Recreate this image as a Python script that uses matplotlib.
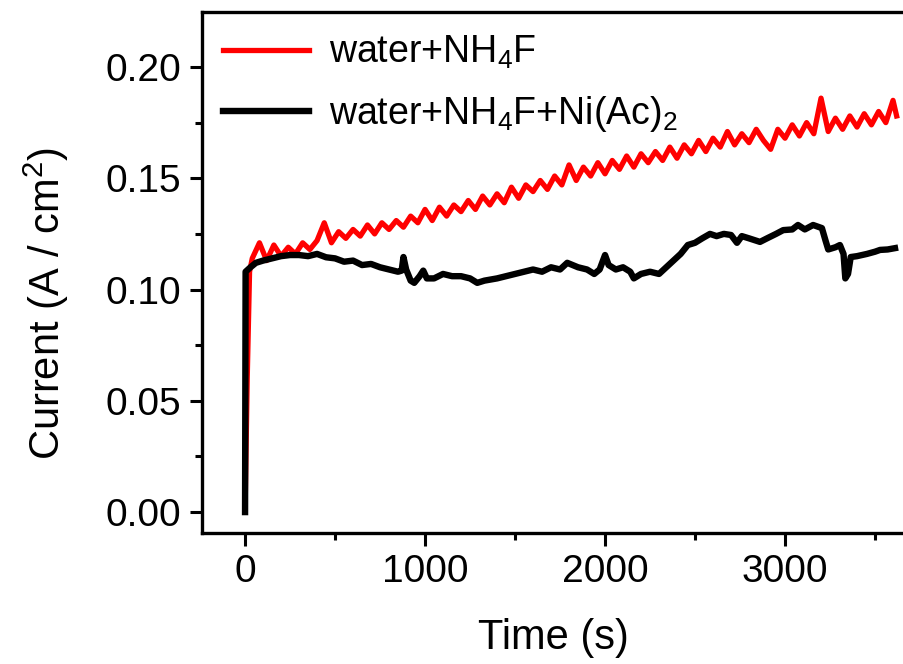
import numpy as np
import matplotlib
matplotlib.use("Agg")
import matplotlib.pyplot as plt
from matplotlib.ticker import MultipleLocator, FormatStrFormatter

plt.rcParams['font.family'] = ['Liberation Sans', 'DejaVu Sans']
plt.rcParams['mathtext.fontset'] = 'custom'
plt.rcParams['mathtext.rm'] = 'Liberation Sans'
plt.rcParams['mathtext.it'] = 'Liberation Sans'
plt.rcParams['mathtext.default'] = 'regular'

# water + NH4F
t_red = [0, 12, 25, 40, 80, 120, 160, 200, 240, 280, 320, 360, 400, 440, 480,
         520, 560, 600, 640, 680, 720, 760, 800, 840, 880, 920, 960, 1000,
         1040, 1080, 1120, 1160, 1200, 1240, 1280, 1320, 1360, 1400, 1440,
         1480, 1520, 1560, 1600, 1640, 1680, 1720, 1760, 1800, 1840, 1880,
         1920, 1960, 2000, 2040, 2080, 2120, 2160, 2200, 2240, 2280, 2320,
         2360, 2400, 2440, 2480, 2520, 2560, 2600, 2640, 2680, 2720, 2760,
         2800, 2840, 2880, 2920, 2960, 3000, 3040, 3080, 3120, 3160, 3200,
         3240, 3280, 3320, 3360, 3400, 3440, 3480, 3520, 3560, 3600, 3620]
i_red = [0.000, 0.060, 0.108, 0.114, 0.121, 0.113, 0.120, 0.115, 0.119, 0.116,
         0.121, 0.118, 0.122, 0.130, 0.121, 0.126, 0.123, 0.127, 0.124, 0.129,
         0.125, 0.130, 0.127, 0.131, 0.128, 0.133, 0.130, 0.136, 0.131, 0.137,
         0.133, 0.138, 0.135, 0.140, 0.136, 0.142, 0.138, 0.143, 0.139, 0.146,
         0.141, 0.147, 0.144, 0.149, 0.145, 0.151, 0.147, 0.156, 0.149, 0.155,
         0.151, 0.157, 0.152, 0.158, 0.154, 0.160, 0.155, 0.161, 0.157, 0.162,
         0.158, 0.164, 0.159, 0.165, 0.161, 0.167, 0.162, 0.168, 0.164, 0.171,
         0.165, 0.170, 0.166, 0.172, 0.167, 0.163, 0.172, 0.168, 0.174, 0.169,
         0.175, 0.170, 0.186, 0.171, 0.177, 0.172, 0.178, 0.173, 0.179, 0.174,
         0.180, 0.175, 0.185, 0.178]

# water + NH4F + Ni(Ac)2
t_blk = [0, 3, 30, 60, 100, 150, 200, 250, 300, 350, 400, 450, 500, 550, 600,
         650, 700, 750, 800, 850, 870, 880, 895, 920, 940, 970, 990, 1010,
         1050, 1100, 1150, 1200, 1250, 1290, 1330, 1400, 1450, 1500, 1550,
         1600, 1650, 1700, 1750, 1790, 1850, 1900, 1940, 1970, 2000, 2020,
         2060, 2100, 2140, 2160, 2200, 2250, 2300, 2340, 2380, 2420, 2460,
         2500, 2540, 2583, 2620, 2660, 2700, 2733, 2760, 2800, 2861, 2900,
         2950, 2990, 3040, 3072, 3110, 3156, 3205, 3225, 3240, 3280, 3305,
         3325, 3335, 3350, 3365, 3400, 3455, 3500, 3528, 3570, 3611]
i_blk = [0.000, 0.108, 0.110, 0.112, 0.113, 0.114, 0.115, 0.1155, 0.1155,
         0.115, 0.116, 0.1145, 0.114, 0.1125, 0.113, 0.111, 0.1115, 0.110,
         0.109, 0.108, 0.1085, 0.1146, 0.109, 0.104, 0.103, 0.106, 0.1085,
         0.105, 0.105, 0.107, 0.106, 0.106, 0.105, 0.103, 0.104, 0.105, 0.106,
         0.107, 0.108, 0.109, 0.108, 0.110, 0.109, 0.112, 0.110, 0.109, 0.107,
         0.109, 0.1155, 0.111, 0.109, 0.110, 0.108, 0.105, 0.107, 0.108,
         0.107, 0.110, 0.113, 0.116, 0.120, 0.121, 0.123, 0.125, 0.124, 0.125,
         0.1245, 0.121, 0.124, 0.123, 0.1214, 0.123, 0.125, 0.1267, 0.127,
         0.129, 0.127, 0.129, 0.1276, 0.122, 0.118, 0.119, 0.120, 0.116,
         0.105, 0.107, 0.1146, 0.115, 0.116, 0.117, 0.1178, 0.118, 0.1186]

fig = plt.figure(figsize=(9.04, 6.64), dpi=100)
ax = fig.add_axes([0.2235, 0.1973, 0.7765, 0.7846])

ax.plot(t_red, i_red, color='#ff0000', lw=3.8, label='water+NH$_4$F')
ax.plot(t_blk, i_blk, color='black', lw=4.6, label='water+NH$_4$F+Ni(Ac)$_2$')

ax.set_xlim(-239, 3661)
ax.set_ylim(-0.0094, 0.2247)
ax.xaxis.set_major_locator(MultipleLocator(1000))
ax.xaxis.set_minor_locator(MultipleLocator(500))
ax.yaxis.set_major_locator(MultipleLocator(0.05))
ax.yaxis.set_minor_locator(MultipleLocator(0.025))
ax.yaxis.set_major_formatter(FormatStrFormatter('%.2f'))

ax.tick_params(which='major', direction='out', length=9, width=2.2,
               labelsize=28, pad=6)
ax.tick_params(which='minor', direction='out', length=5, width=2.2)
ax.tick_params(top=False, right=False, which='both')
for s in ['left', 'bottom', 'top']:
    ax.spines[s].set_linewidth(2.4)
ax.spines['right'].set_visible(False)

ax.set_xlabel('Time (s)', fontsize=30, labelpad=20)
ax.set_ylabel('Current (A / cm$^2$)', fontsize=30)
ax.yaxis.set_label_coords(-0.187, 0.44)

leg = ax.legend(loc='upper left', bbox_to_anchor=(0.03, 0.958),
                frameon=False, fontsize=27, handlelength=2.3,
                handletextpad=0.53, labelspacing=0.6, borderpad=0,
                borderaxespad=0)

fig.savefig('out.png', dpi=100)
